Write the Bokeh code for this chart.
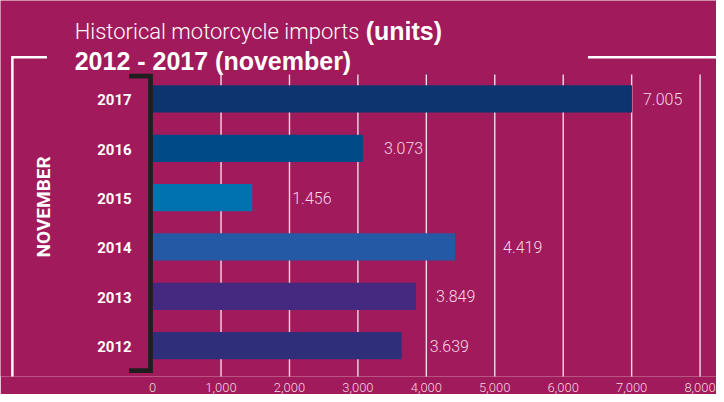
import numpy as np
from bokeh.plotting import figure
from bokeh.models import ColumnDataSource, Range1d, FixedTicker, NumeralTickFormatter
from bokeh.core.properties import value
from bokeh.embed import file_html
from bokeh.resources import INLINE

# ---------------- data ----------------
years = ["2012", "2013", "2014", "2015", "2016", "2017"]
imports = [3639, 3849, 4419, 1456, 3073, 7005]
x_ticks = [0, 1000, 2000, 3000, 4000, 5000, 6000, 7000, 8000]
title_line1 = "Historical motorcycle imports"
title_units = "(units)"
title_line2 = "2012 - 2017 (november)"
side_label = "NOVEMBER"

# ---------------- styles ----------------
BG = "#A11A5B"
LIGHT = "#F2D6E4"
bar_colors = ["#2E2E7A", "#452880", "#245AA5", "#0072B0", "#004B87", "#0E3470"]
label_dx = [28, 20, 48, 40, 21, 11]          # label offsets (px) from bar ends

W, H = 716, 394               # figure size
REF_W, REF_H = 724, 402       # layout reference frame
AXIS_H = 16
X0, PX_K = 153.8, 69.2        # layout x of value 0, layout px per 1000 units
ROW0, ROW_PX = 354, 50.6      # layout y of first row, layout px per row


def dx(rx):
    return (rx - X0) / PX_K * 1000


def dy(ry):
    return (ROW0 - ry) / ROW_PX


frame_bottom = (H - AXIS_H) * REF_H / H

p = figure(width=W, height=H,
           x_range=Range1d(dx(0), dx(REF_W)),
           y_range=Range1d(dy(frame_bottom), dy(0)),
           output_backend="svg", toolbar_location=None,
           y_axis_location=None, min_border=0, min_border_bottom=AXIS_H,
           background_fill_color=BG, border_fill_color=BG,
           outline_line_color=None)
p.grid.visible = False

ax = p.xaxis[0]
ax.ticker = FixedTicker(ticks=x_ticks)
ax.formatter = NumeralTickFormatter(format="0,0")
ax.axis_line_color = None
ax.major_tick_line_color = None
ax.minor_tick_line_color = None
ax.major_label_standoff = 0
ax.major_label_text_font = "Roboto Light"
ax.major_label_text_font_size = "13px"
ax.major_label_text_color = LIGHT

# grid lines
grid_x = x_ticks[1:]
p.segment(x0=grid_x, y0=dy(76), x1=grid_x, y1=dy(387),
          line_color="white", line_alpha=0.85, line_width=1.4)

src = ColumnDataSource(dict(
    row=list(range(len(years))), year=years, value=imports,
    color=bar_colors, dx=label_dx,
    label=[f"{v:,}".replace(",", ".") for v in imports]))

p.hbar(y="row", left=0, right="value", height=28 / ROW_PX,
       fill_color="color", line_color=None, source=src)

p.text(x="value", y="row", text="label", x_offset="dx",
       text_align="left", text_baseline="middle",
       text_font=value("Roboto Light"), text_font_size="16px",
       text_color=LIGHT, source=src)

p.text(x=0, y="row", text="year", x_offset=-21, y_offset=1,
       text_align="right", text_baseline="middle",
       text_font=value("Roboto"), text_font_style="bold",
       text_font_size="15px", text_color="white", source=src)

# bracket
p.line(x=[dx(130), dx(151.7), dx(151.7), dx(130)],
       y=[dy(77.5), dy(77.5), dy(379.7), dy(379.7)],
       line_width=4.7, line_color="#1E1E1E", line_join="miter")

# white frame lines
p.line(x=[dx(47), dx(12), dx(12)], y=[dy(58.3), dy(58.3), dy(REF_H)],
       line_color="white", line_width=2.5, line_join="miter")
p.line(x=[dx(594), dx(REF_W)], y=[dy(58.3), dy(58.3)],
       line_color="white", line_width=2.5)

# titles
p.text(x=[dx(75)], y=[dy(31.7)], text=[title_line1],
       text_baseline="alphabetic", text_align="left",
       text_font=value("Roboto Light"), text_font_size="22px",
       text_color="white")
p.text(x=[dx(369.3)], y=[dy(31.7)], text=[title_units],
       text_baseline="alphabetic", text_align="left",
       text_font=value("Liberation Sans"), text_font_style="bold",
       text_font_size="25px", text_color="white")
p.text(x=[dx(75)], y=[dy(61.7)], text=[title_line2],
       text_baseline="alphabetic", text_align="left",
       text_font=value("Liberation Sans"), text_font_style="bold",
       text_font_size="25px", text_color="white")

p.text(x=[dx(43)], y=[dy(211.7)], text=[side_label], angle=np.pi / 2,
       text_align="center", text_baseline="middle",
       text_font=value("Roboto"), text_font_style="bold",
       text_font_size="19px", text_color="white")

open("out.html", "w").write(file_html(p, INLINE))
